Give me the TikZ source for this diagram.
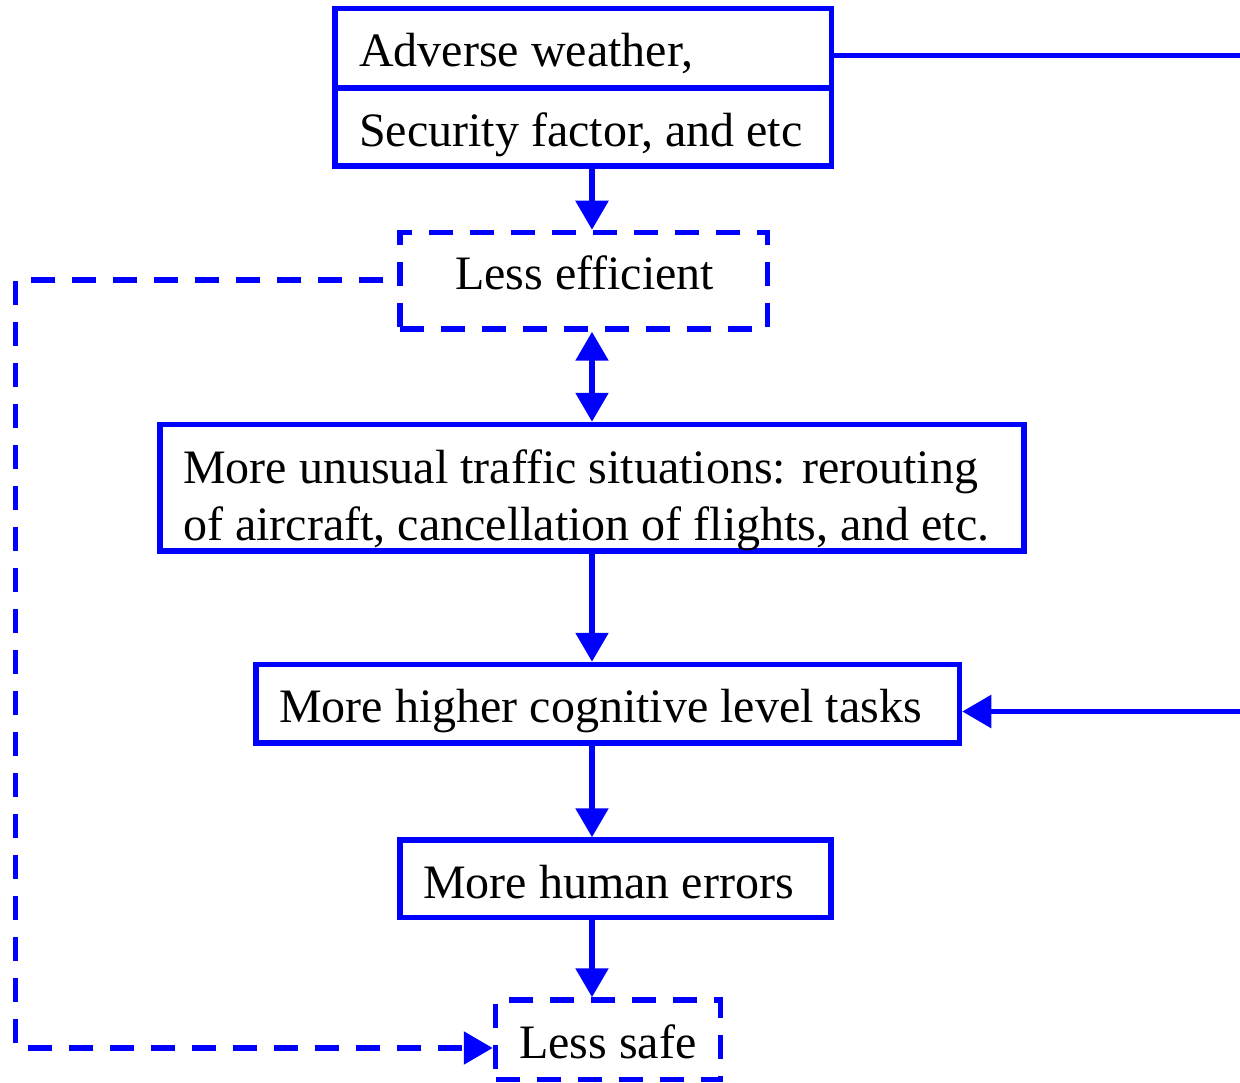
\documentclass[tikz,border=0pt]{standalone}
\usepackage{fontspec}
\setmainfont{Liberation Serif}
\usetikzlibrary{arrows.meta}
\begin{document}
\begin{tikzpicture}[x=1pt,y=-1pt,
  box/.style={draw=blue, line width=5.5pt, inner sep=0pt, rectangle},
  dbox/.style={box, dash pattern=on 24pt off 17pt},
  lbl/.style={anchor=base west, inner sep=0pt, font=\fontsize{48}{57}\selectfont},
  conn/.style={draw=blue, line width=5.5pt},
  tip/.style={-{Triangle[length=29pt,width=32pt]}},
  dtip/.style={{Triangle[length=29pt,width=32pt]}-{Triangle[length=29pt,width=32pt]}},
]
\useasboundingbox (0,0) rectangle (1240,1083);
% boxes
\node[box, minimum width=496.5pt, minimum height=157.5pt] (top) at (583.25,87.25) {};
\node[dbox, minimum width=367.5pt, minimum height=96.5pt] (le) at (583.75,280.75) {};
\node[box, minimum width=864pt, minimum height=126.5pt] (un) at (592,487.75) {};
\node[box, minimum width=703.5pt, minimum height=78.5pt] (tk) at (607.75,703.75) {};
\node[box, minimum width=431pt, minimum height=77.5pt] (he) at (615.5,878.75) {};
\node[dbox, minimum width=225pt, minimum height=79.5pt] (ls) at (608,1039.75) {};
% divider in top box
\coordinate (mid) at (0,88);
\draw[conn] (mid -| top.west) -- (mid -| top.east);
% texts
\node[lbl] (t1) at (359,67) {Adverse weather,};
\node[lbl] (t2) at (359,147) {Security factor, and etc};
\node[lbl] (t3) at (455,290) {Less efficient};
\node[lbl] (t4) at (183,483) {More unusual traffic situations: rerouting};
\node[lbl] (t5) at (183,540) {of aircraft, cancellation of flights, and etc.};
\node[lbl] (t6) at (279,722) {More higher cognitive level tasks};
\node[lbl] (t7) at (423,898) {More human errors};
\node[lbl] (t8) at (519,1058) {Less safe};
% spine connectors
\coordinate (sp) at (592,0);
\draw[conn,tip] (sp |- top.south) -- (sp |- le.north);
\draw[conn,dtip] (sp |- le.south) -- (sp |- un.north);
\draw[conn,tip] (sp |- un.south) -- (sp |- tk.north);
\draw[conn,tip] (sp |- tk.south) -- (sp |- he.north);
\draw[conn,tip] (sp |- he.south) -- (sp |- ls.north);
% right side lines
\coordinate (r1) at (1240,55.5);
\draw[conn] (r1 -| top.east) -- (r1);
\coordinate (r2) at (1240,711.5);
\draw[conn,tip] (r2) -- (r2 -| tk.east);
% dashed loop
\coordinate (c1) at (15.5,280);
\coordinate (c2) at (15.5,1048);
\draw[conn,tip,dash pattern=on 24pt off 17pt,dash phase=27pt]
  (le.west |- c1) -- (c1) -- (c2) -- (c2 -| ls.west);
\end{tikzpicture}
\end{document}
